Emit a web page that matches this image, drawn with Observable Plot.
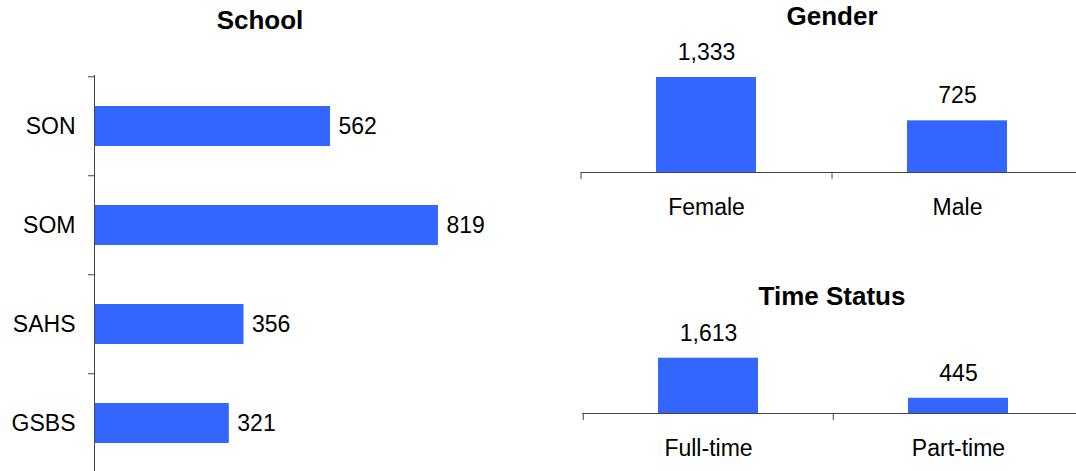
<!DOCTYPE html>
<html><head><meta charset="utf-8">
<script src="https://cdn.jsdelivr.net/npm/d3@7"></script>
<script src="https://cdn.jsdelivr.net/npm/@observablehq/plot@0.6"></script>
<style>
body{margin:0;background:#fff;}
#root{position:relative;width:1076px;height:471px;overflow:hidden;font-family:"Liberation Sans",Arial,sans-serif;}
.panel{position:absolute;left:0;}
#root svg{max-width:none !important;height:auto;}
.title{position:absolute;font-weight:bold;font-size:26px;text-align:center;width:300px;line-height:1;color:#000;}
</style></head><body><div id="root"></div>
<script>
// ---- data ----
const schools = ["SON", "SOM", "SAHS", "GSBS"];
const schoolCounts = [562, 819, 356, 321];
const genders = ["Female", "Male"];
const genderCounts = [1333, 725];
const statuses = ["Full-time", "Part-time"];
const statusCounts = [1613, 445];

const schoolData = schools.map((name, i) => ({name, count: schoolCounts[i]}));
const genderData = genders.map((name, i) => ({name, count: genderCounts[i]}));
const statusData = statuses.map((name, i) => ({name, count: statusCounts[i]}));

const fmt = d3.format(",");
const BLUE = "#3366FF";
const AXIS = "#444";
const FONT = "'Liberation Sans', Arial, sans-serif";
const root = document.getElementById("root");

function place(el, top) {
  el.classList.add("panel");
  el.style.top = top + "px";
  el.style.maxWidth = "none";
  root.appendChild(el);
}
function title(text, cx, top) {
  const d = document.createElement("div");
  d.className = "title";
  d.textContent = text;
  d.style.left = (cx - 150) + "px";
  d.style.top = top + "px";
  root.appendChild(d);
}

// ---- left: School (horizontal bars) ----
{
  const H = 473, mt = 75, mb = 0, ml = 94, W = 540;
  const frameW = W - ml;
  const step = (H - mt - mb) / schools.length;
  const p = Plot.plot({
    width: W, height: H, marginLeft: ml, marginRight: 0, marginTop: mt, marginBottom: mb,
    style: {fontFamily: FONT, fontSize: "23px", background: "transparent", overflow: "visible", color: "#000", maxWidth: "none"},
    x: {domain: [0, 1062], axis: null},
    y: {domain: schools, paddingInner: 0.6, paddingOuter: 0.3, label: null},
    marks: [
      Plot.axisY({tickSize: 0, tickPadding: 19, label: null, fontSize: 23}),
      Plot.barX(schoolData, {x: "count", y: "name", fill: BLUE}),
      Plot.text(schoolData, {x: "count", y: "name", text: d => fmt(d.count), textAnchor: "start", dx: 8, fontSize: 23, fill: "#000"}),
      Plot.ruleX([0], {stroke: AXIS}),
      Plot.ruleY(schools, {dy: -step / 2, insetLeft: -6, insetRight: frameW, stroke: AXIS}),
      Plot.ruleY([schools[schools.length - 1]], {dy: step / 2, insetLeft: -6, insetRight: frameW, stroke: AXIS})
    ]
  });
  place(p, 0);
  title("School", 260, 7);
}

// ---- right: vertical bar panels ----
function columnPanel(data, cats, {top, H, mt, mb, ml, yMax}) {
  const W = 1084, mr = 1;
  const frameH = H - mt - mb;
  const step = (W - ml - mr) / cats.length;
  const p = Plot.plot({
    width: W, height: H, marginLeft: ml, marginRight: mr, marginTop: mt, marginBottom: mb,
    style: {fontFamily: FONT, fontSize: "23px", background: "transparent", overflow: "visible", color: "#000", maxWidth: "none"},
    x: {domain: cats, paddingInner: 0.6, paddingOuter: 0.3, label: null},
    y: {domain: [0, yMax], axis: null},
    marks: [
      Plot.axisX({tickSize: 0, tickPadding: 26, label: null, fontSize: 23}),
      Plot.barY(data, {x: "name", y: "count", fill: BLUE}),
      Plot.text(data, {x: "name", y: "count", text: d => fmt(d.count), dy: -25, fontSize: 23, fill: "#000"}),
      Plot.ruleY([0], {stroke: AXIS}),
      Plot.ruleX(cats, {dx: -step / 2, insetTop: frameH, insetBottom: -7, stroke: AXIS}),
      Plot.ruleX([cats[cats.length - 1]], {dx: step / 2, insetTop: frameH, insetBottom: -7, stroke: AXIS})
    ]
  });
  place(p, top);
}

columnPanel(genderData, genders, {top: 0, H: 230, mt: 40, mb: 58, ml: 581, yMax: 1852});
title("Gender", 832, 3);

columnPanel(statusData, statuses, {top: 240, H: 231, mt: 100, mb: 58, ml: 582, yMax: 2130});
title("Time Status", 832, 283);
</script>
</body></html>
